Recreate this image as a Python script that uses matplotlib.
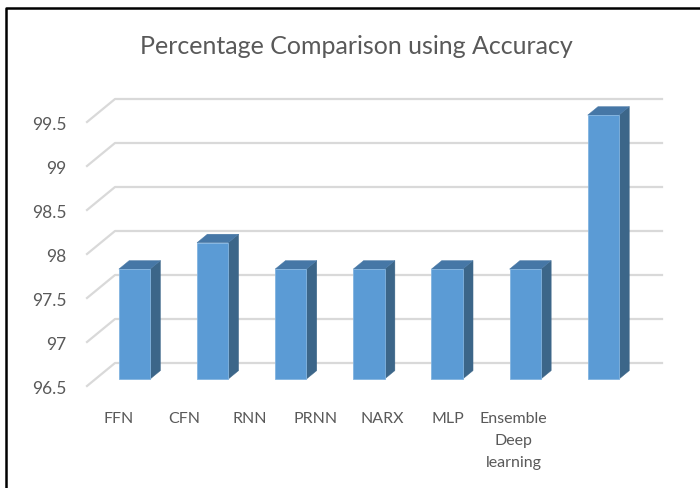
import numpy as np
import matplotlib
matplotlib.use("Agg")
import matplotlib.pyplot as plt
from matplotlib.patches import Polygon

plt.rcParams['font.family'] = ['Lato', 'DejaVu Sans']

# data
models = ['FFN', 'CFN', 'RNN', 'PRNN', 'NARX', 'MLP', 'Ensemble\nDeep\nlearning']
accuracy = [97.75, 98.05, 97.75, 97.75, 97.75, 97.75, 99.5]
yticks = [96.5, 97, 97.5, 98, 98.5, 99, 99.5]

W, H = 700, 489
fig = plt.figure(figsize=(7, 4.89), dpi=100)
fig.patch.set_facecolor('white')

# axes = front plane of the 3d box (pixel layout)
left, right, bottom, top = 87, 634, 387, 123
ax = fig.add_axes([left / W, (H - bottom) / H, (right - left) / W, (bottom - top) / H])
ax.set_xlim(-0.5, 6.5)
ax.set_ylim(96.5, 99.5)
for s in ax.spines.values():
    s.set_visible(False)
ax.patch.set_alpha(0)

# depth offset (front -> back wall) in data units
px_x = (right - left) / 7.0
px_y = (bottom - top) / 3.0
dx = 28 / px_x
dy = 23 / px_y

grid_c = '#d9d9d9'
for v in yticks:
    ax.plot([-0.5, -0.5 + dx, 6.5 + dx], [v, v + dy, v + dy], color=grid_c,
            lw=1.6, clip_on=False, zorder=1)

# 3d columns
f0, fd, bw = 0.3, 0.37, 0.4
xs = np.arange(len(models)) + f0 * dx
base = 96.5 + f0 * dy
bars = ax.bar(xs, np.array(accuracy) - 96.5, width=bw, bottom=base,
              color='#5b9bd5', edgecolor='#82b4e0', linewidth=0.6,
              clip_on=False, zorder=3)
for b in bars:
    xl, xr = b.get_x(), b.get_x() + b.get_width()
    yt = b.get_y() + b.get_height()
    ox, oy = fd * dx, fd * dy
    ax.add_patch(Polygon([(xr, base), (xr, yt), (xr + ox, yt + oy), (xr + ox, base + oy)],
                         closed=True, facecolor='#3c6689', edgecolor='#3c6689',
                         lw=0.3, clip_on=False, zorder=2))
    ax.add_patch(Polygon([(xl, yt), (xr, yt), (xr + ox, yt + oy), (xl + ox, yt + oy)],
                         closed=True, facecolor='#4677a6', edgecolor='#4677a6',
                         lw=0.3, clip_on=False, zorder=2))

# axes labels
ax.set_yticks(yticks)
ax.set_yticklabels([f'{v:g}' for v in yticks])
ax.tick_params(axis='y', length=0, pad=15, labelsize=12.5, labelcolor='#595959')
for t in ax.get_yticklabels():
    t.set_y(t.get_position()[1])
lab_x = -0.1 + np.arange(len(models)) * 0.843
ax.set_xticks(lab_x)
ax.set_xticklabels(models, linespacing=1.75)
ax.tick_params(axis='x', length=0, pad=18, labelsize=11.5, labelcolor='#595959')

fig.text(356 / W, 1 - 47 / H, 'Percentage Comparison using Accuracy',
         ha='center', va='center', fontsize=18, color='#595959')

# outer frame (top and left edges)
fig.add_artist(plt.Line2D([6 / W, 6 / W, 1], [0, 1 - 9 / H, 1 - 9 / H],
                          transform=fig.transFigure, color='black', lw=1.8))

fig.savefig('out.png', dpi=100)
